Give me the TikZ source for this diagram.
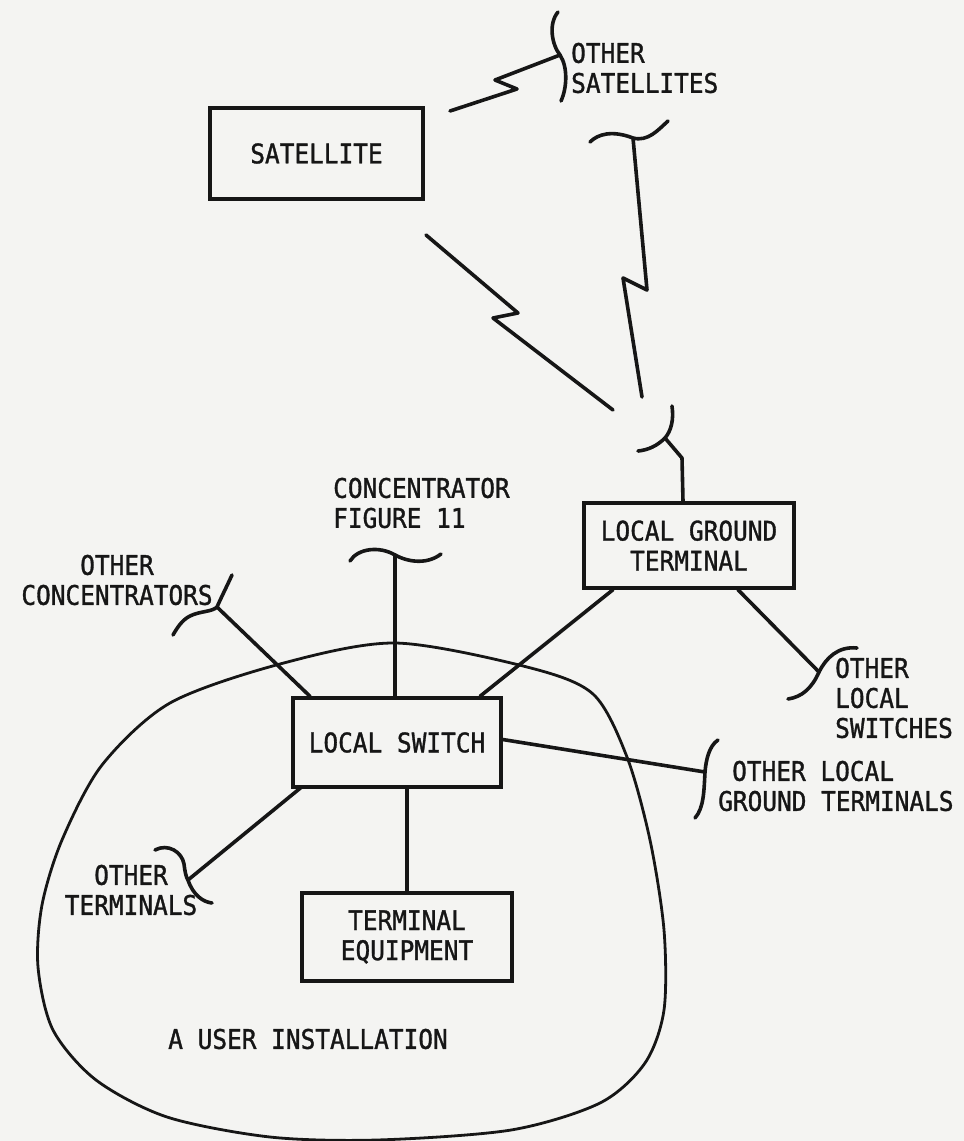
\documentclass[tikz,border=0pt]{standalone}
\usepackage{fontspec}
\newfontfamily\lblfont{DejaVu Sans Mono}[FakeStretch=0.905,FakeBold=1.2]
\definecolor{paper}{RGB}{244,244,242}
\definecolor{ink}{RGB}{22,22,22}
\begin{document}
\begin{tikzpicture}[x=1pt,y=-1pt,
  ln/.style={draw=ink,line width=3.6pt,line cap=round,line join=round},
  bracestroke/.style={draw=ink,line width=3.6pt,line cap=round},
  boxnode/.style={draw=ink,line width=3.4pt,inner sep=0pt,align=center,
    font=\lblfont\fontsize{27}{30}\selectfont,text=ink},
  lbl/.style={inner sep=0pt,font=\lblfont\fontsize{27}{30}\selectfont,text=ink}]
\fill[paper] (0,0) rectangle (964,1141);
\useasboundingbox (0,0) rectangle (964,1141);

% user installation outline
\draw[draw=ink,line width=2.8pt] plot[smooth cycle,tension=0.5] coordinates {
 (395,643) (527,667) (593,694) (627,757) (650,840) (664,930) (664,1010)
 (645,1063) (600,1103) (511,1130) (377,1140) (270,1137) (167,1117)
 (96,1080) (53,1030) (38,967) (42,905) (62,840) (102,765) (170,703) (280,664)};

% boxes
\node[boxnode,minimum width=213pt,minimum height=91pt] (sat) at (316.5,153.5) {SATELLITE};
\node[boxnode,minimum width=210pt,minimum height=85pt] (lgt) at (689,545.5) {LOCAL GROUND\\TERMINAL};
\node[boxnode,minimum width=208pt,minimum height=89pt] (ls) at (397,742.5) {LOCAL SWITCH};
\node[boxnode,minimum width=210pt,minimum height=88pt] (te) at (407,937) {TERMINAL\\EQUIPMENT};

% labels
\node[lbl,anchor=west,align=left] (othsat) at (571,68) {OTHER\\SATELLITES};
\node[lbl,anchor=west,align=left] (conc) at (333,503) {CONCENTRATOR\\FIGURE 11};
\node[lbl,align=center] (othconc) at (117,580) {OTHER\\CONCENTRATORS};
\node[lbl,align=center] (othterm) at (131,890) {OTHER\\TERMINALS};
\node[lbl,anchor=west,align=left] (othls) at (835,698) {OTHER\\LOCAL\\SWITCHES};
\node[lbl,anchor=west,align=left] (othlgt) at (718,786) {\hspace*{14pt}OTHER LOCAL\\GROUND TERMINALS};
\node[lbl] (user) at (308,1039) {A USER INSTALLATION};

% named junction / end points
\coordinate (jsat) at (560,55);
\coordinate (zs) at (450,111);
\coordinate (zl) at (426,235);
\coordinate (zlend) at (613,410);
\coordinate (jtop) at (633,138);
\coordinate (zvend) at (642,397);
\coordinate (jdish) at (665,438);
\coordinate (jconc) at (395,555);
\coordinate (jothconc) at (217,607);
\coordinate (jothterm) at (188,880);
\coordinate (jothls) at (819,672);
\coordinate (jothlgt) at (705,772);

% satellite links (zigzags)
\draw[ln] (zs) -- (517,89) -- (495,80) -- (jsat);
\draw[ln] (zl) -- (518,313) -- (493,318) -- (zlend);
\draw[ln] (jtop) -- (647,290) -- (623,278) -- (zvend);

% braces
\draw[bracestroke] (558,12) .. controls (548,24) and (552,45) .. (jsat)
  .. controls (568,67) and (567,88) .. (561,101);
\draw[bracestroke] (590,142) .. controls (598,134) and (612,130) .. (jtop)
  .. controls (648,142) and (658,130) .. (668,121);
\draw[bracestroke] (672,406) .. controls (674,420) and (671,431) .. (jdish)
  .. controls (657,446) and (648,450) .. (638,451);
\draw[bracestroke] (350,561) .. controls (358,548) and (380,546) .. (jconc)
  .. controls (410,563) and (428,564) .. (441,554);
\draw[bracestroke] (232,575) .. controls (226,588) and (220,600) .. (jothconc)
  .. controls (212,612) and (200,611) .. (190,616)
  .. controls (182,620) and (177,628) .. (173,635);
\draw[bracestroke] (155,850) .. controls (168,843) and (182,852) .. (184,864)
  .. controls (185,872) and (186,877) .. (jothterm)
  .. controls (193,895) and (203,902) .. (212,903);
\draw[bracestroke] (857,648) .. controls (838,646) and (826,658) .. (jothls)
  .. controls (812,688) and (802,697) .. (788,699);
\draw[bracestroke] (718,740) .. controls (709,746) and (706,760) .. (jothlgt)
  .. controls (704,790) and (704,808) .. (695,818);

% connectors
\draw[ln] (lgt.north -| 683,0) -- (682,458) -- (jdish);
\draw[ln] ([xshift=-76pt]lgt.south) -- ([xshift=83pt]ls.north);
\draw[ln] ([xshift=49pt]lgt.south) -- (jothls);
\draw[ln] (ls.north -| jconc) -- (jconc);
\draw[ln] ([xshift=-87pt]ls.north) -- (jothconc);
\draw[ln] ([xshift=-95pt,yshift=2pt]ls.south) -- (jothterm);
\draw[ln] ([yshift=3pt]ls.east) -- (jothlgt);
\draw[ln] (ls.south -| te.north) -- (te.north);
\end{tikzpicture}
\end{document}
